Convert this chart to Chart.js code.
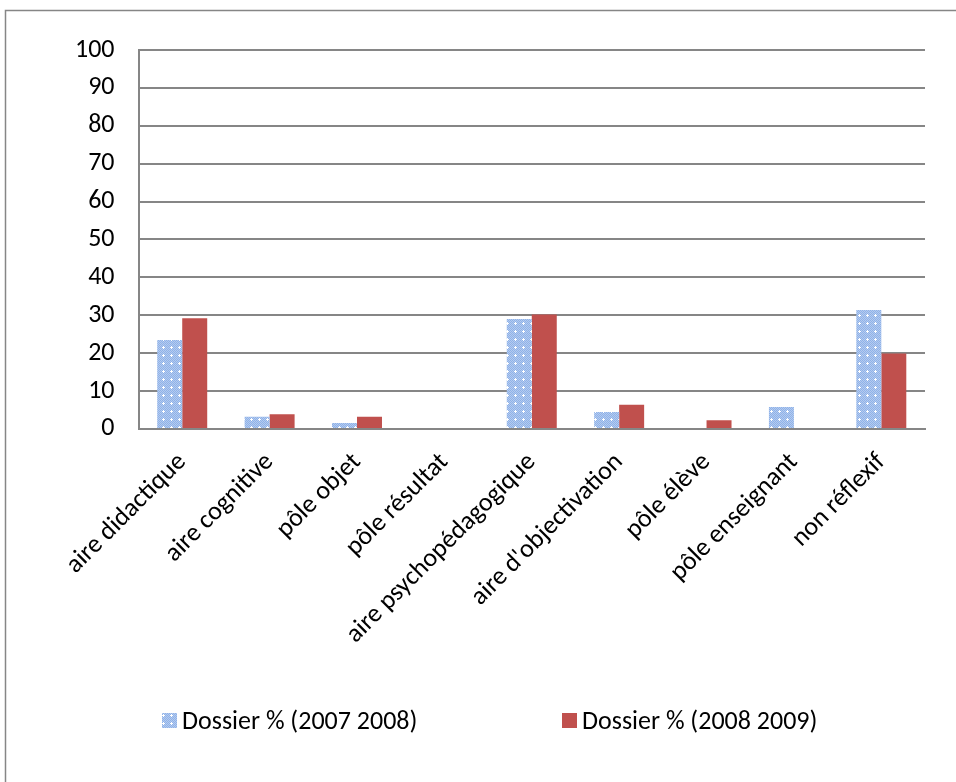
<!DOCTYPE html>
<html>
<head>
<meta charset="utf-8">
<script src="https://cdn.jsdelivr.net/npm/chart.js@4"></script>
<style>
html,body{margin:0;padding:0;background:#fff;}
#wrap{width:956px;height:782px;position:relative;}
</style>
</head>
<body>
<div id="wrap"><canvas id="c" width="956" height="782"></canvas></div>
<script>
const categories = ["aire didactique","aire cognitive","pôle objet","pôle résultat","aire psychopédagogique","aire d'objectivation","pôle élève","pôle enseignant","non réflexif"];
const series2007 = [23.5, 3.2, 1.6, 0, 29.0, 4.5, 0, 5.8, 31.4];
const series2008 = [29.2, 3.9, 3.2, 0, 30.2, 6.4, 2.3, 0, 19.9];
const seriesLabels = ["Dossier % (2007 2008)", "Dossier % (2008 2009)"];
const yTicks = [0,10,20,30,40,50,60,70,80,90,100];

const FONT = "Carlito, Lato, 'Open Sans', sans-serif";
const FS = 26;

function makePattern(){
  const p = document.createElement('canvas');
  p.width = 8; p.height = 8;
  const g = p.getContext('2d');
  g.fillStyle = '#b4cbf0'; g.fillRect(0,0,8,8);
  g.fillStyle = '#8fb2e8';
  for(let y=0;y<8;y++) for(let x=0;x<8;x++) if((x+y)%2===0) g.fillRect(x,y,1,1);
  g.fillStyle = '#ffffff';
  g.fillRect(3,2,1,3); g.fillRect(2,3,3,1);
  return g.createPattern(p,'repeat');
}
const ctx = document.getElementById('c').getContext('2d');
const bluePattern = makePattern();
const red = '#c0504d';

const framePlugin = {
  id:'frame',
  beforeDraw(chart){
    const g = chart.ctx;
    g.save();
    g.fillStyle='#fff'; g.fillRect(0,0,chart.width,chart.height);
    g.strokeStyle='#868686'; g.lineWidth=1.5;
    g.beginPath();
    g.moveTo(5.5, chart.height); g.lineTo(5.5, 10.5); g.lineTo(chart.width, 10.5);
    g.stroke();
    g.restore();
  }
};
const legendPlugin = {
  id:'customLegend',
  afterDraw(chart){
    const g = chart.ctx;
    const xs = [162, 562];
    const y = 721;
    g.save();
    g.font = FS + "px " + FONT;
    g.textBaseline = 'middle';
    chart.data.datasets.forEach((ds,i)=>{
      g.fillStyle = ds.backgroundColor;
      g.fillRect(xs[i], y-8, 15, 15);
      g.fillStyle = '#000';
      g.fillText(ds.label, xs[i]+20, y+1);
    });
    g.restore();
  }
};

new Chart(ctx, {
  type:'bar',
  data:{
    labels: categories,
    datasets:[
      {label: seriesLabels[0], data: series2007, backgroundColor: bluePattern, borderWidth:0},
      {label: seriesLabels[1], data: series2008, backgroundColor: red, borderWidth:0}
    ]
  },
  options:{
    responsive:false,
    animation:false,
    devicePixelRatio:1,
    layout:{padding:{top:50, right:31, bottom:114, left:51}},
    plugins:{legend:{display:false}, tooltip:{enabled:false}},
    datasets:{bar:{categoryPercentage:0.572, barPercentage:1}},
    scales:{
      x:{
        grid:{display:false, drawTicks:false},
        border:{color:'#868686', width:2},
        ticks:{color:'#000', font:{size:FS, family:FONT}, maxRotation:45, minRotation:45, padding:18, autoSkip:false}
      },
      y:{
        min:0, max:100,
        afterBuildTicks(scale){ scale.ticks = yTicks.map(v=>({value:v})); },
        grid:{color:'#868686', lineWidth:2, drawTicks:false},
        border:{color:'#868686', width:2},
        ticks:{color:'#000', font:{size:FS, family:FONT}, padding:24}
      }
    }
  },
  plugins:[framePlugin, legendPlugin]
});
</script>
</body>
</html>
